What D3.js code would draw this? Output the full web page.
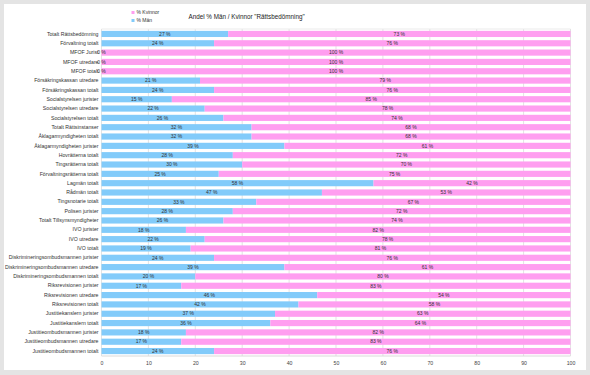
<!DOCTYPE html>
<html lang="sv">
<head>
    <meta charset="UTF-8">
    <title>Andel % Män / Kvinnor Rättsbedömning</title>
    <script src="https://d3js.org/d3.v7.min.js"></script>
    <style>
        body { margin: 0; background: #fff; }
        svg { display: block; font-family: "Liberation Sans", Arial, sans-serif; }
    </style>
</head>
<body>
<div id="chart"></div>
<script>

    // categories, top to bottom
    var categories = [
        "Totalt Rättsbedömning", "Förvaltning totalt", "MFOF Jurist", "MFOF utredare", "MFOF totalt",
        "Försäkringskassan utredare", "Försäkringskassan totalt", "Socialstyrelsen jurister",
        "Socialstyrelsen utredare", "Socialstyrelsen totalt", "Totalt Rättsinstanser",
        "Åklagarmyndigheten totalt", "Åklagarmyndigheten jurister", "Hovrätterna totalt",
        "Tingsrätterna totalt", "Förvaltningsrätterna totalt", "Lagmän totalt", "Rådmän totalt",
        "Tingsnotarie totalt", "Polisen jurister", "Totalt Tillsynsmyndigheter", "IVO jurister",
        "IVO utredare", "IVO totalt", "Diskrimineringsombudsmannen jurister",
        "Diskrimineringsombudsmannen utredare", "Diskrimineringsombudsmannen totalt",
        "Riksrevisionen jurister", "Riksrevisionen utredare", "Riksrevisionen totalt",
        "Justitiekanslern jurister", "Justitiekanslern totalt", "Justitieombudsmannen jurister",
        "Justitieombudsmannen utredare", "Justitieombudsmannen totalt"
    ];

    var man = [27, 24, 0, 0, 0, 21, 24, 15, 22, 26, 32, 32, 39, 28, 30, 25, 58, 47, 33, 28, 26,
        18, 22, 19, 24, 39, 20, 17, 46, 42, 37, 36, 18, 17, 24];

    var kvinnor = [73, 76, 100, 100, 100, 79, 76, 85, 78, 74, 68, 68, 61, 72, 70, 75, 42, 53, 67, 72, 74,
        82, 78, 81, 76, 61, 80, 83, 54, 58, 63, 64, 82, 83, 76];

    var xTicks = [0, 10, 20, 30, 40, 50, 60, 70, 80, 90, 100];

    var W = 590, H = 375;
    var margin = {top: 29, right: 19, bottom: 19, left: 101.5};
    var width = 570.5 - margin.left,
        height = 356 - margin.top;

    var svg = d3.select("#chart")
        .append("svg")
        .attr("width", W)
        .attr("height", H);

    // outer frame
    svg.append("rect").attr("width", W).attr("height", H).attr("fill", "#e4e4e4");
    svg.append("rect").attr("x", 4).attr("y", 4).attr("width", 582).attr("height", 366)
        .attr("fill", "#fff");

    var g = svg.append("g")
        .attr("transform", "translate(" + margin.left + "," + margin.top + ")");

    var x = d3.scaleLinear().domain([0, 100]).range([0, width]);
    var y = d3.scaleBand().domain(categories).range([0, height]).paddingInner(0.34).paddingOuter(0.2);

    // grid
    g.selectAll(".grid")
        .data(xTicks)
        .enter().append("line")
        .attr("x1", function (d) { return x(d); })
        .attr("x2", function (d) { return x(d); })
        .attr("y1", 0)
        .attr("y2", height)
        .attr("stroke", "#dcdcdc")
        .attr("stroke-width", 0.8);
    g.append("line").attr("x1", 0).attr("x2", width).attr("y1", 0).attr("y2", 0)
        .attr("stroke", "#e6e6e6").attr("stroke-width", 0.8);
    g.append("line").attr("x1", 0).attr("x2", width).attr("y1", height).attr("y2", height)
        .attr("stroke", "#d0d0d0").attr("stroke-width", 0.8);

    var rows = categories.map(function (c, i) {
        return {cat: c, man: man[i], kv: kvinnor[i]};
    });

    // men bars
    g.selectAll(".man")
        .data(rows)
        .enter().append("rect")
        .attr("x", x(0))
        .attr("y", function (d) { return y(d.cat); })
        .attr("width", function (d) { return x(d.man) - x(0); })
        .attr("height", y.bandwidth())
        .attr("fill", "#82cbfa");

    // women bars
    g.selectAll(".kv")
        .data(rows)
        .enter().append("rect")
        .attr("x", function (d) { return x(d.man); })
        .attr("y", function (d) { return y(d.cat); })
        .attr("width", function (d) { return x(d.man + d.kv) - x(d.man); })
        .attr("height", y.bandwidth())
        .attr("fill", "#ff9ef0");

    // value labels
    var lab = g.append("g").attr("font-size", 5).attr("fill", "#333").attr("text-anchor", "middle");
    lab.selectAll(".lm")
        .data(rows)
        .enter().append("text")
        .attr("x", function (d) { return x(d.man / 2); })
        .attr("y", function (d) { return y(d.cat) + y.bandwidth() / 2; })
        .attr("dy", "0.35em")
        .text(function (d) { return d.man + " %"; });
    lab.selectAll(".lk")
        .data(rows)
        .enter().append("text")
        .attr("x", function (d) { return x(d.man + d.kv / 2); })
        .attr("y", function (d) { return y(d.cat) + y.bandwidth() / 2; })
        .attr("dy", "0.35em")
        .text(function (d) { return d.kv + " %"; });

    // y axis labels
    var yAxis = g.append("g")
        .call(d3.axisLeft(y).tickSize(0).tickPadding(3));
    yAxis.select(".domain").remove();
    yAxis.selectAll("text").attr("font-size", 5.2).attr("fill", "#333")
        .attr("font-family", "'Liberation Sans', Arial, sans-serif");

    // x axis
    var xAxis = g.append("g")
        .attr("transform", "translate(0," + height + ")")
        .call(d3.axisBottom(x).tickValues(xTicks).tickSize(0).tickPadding(5));
    xAxis.select(".domain").remove();
    xAxis.selectAll("text").attr("font-size", 5.2).attr("fill", "#444")
        .attr("font-family", "'Liberation Sans', Arial, sans-serif");

    // legend
    var legend = svg.append("g").attr("font-size", 5).attr("fill", "#333");
    legend.append("rect").attr("x", 131.5).attr("y", 11).attr("width", 3).attr("height", 3).attr("fill", "#ff9ef0");
    legend.append("text").attr("x", 136.5).attr("y", 12.5).attr("dy", "0.35em").text("% Kvinnor");
    legend.append("rect").attr("x", 131.5).attr("y", 19).attr("width", 3).attr("height", 3).attr("fill", "#82cbfa");
    legend.append("text").attr("x", 136.5).attr("y", 20.5).attr("dy", "0.35em").text("% Män");

    // title
    svg.append("text")
        .attr("x", 188.5)
        .attr("y", 17)
        .attr("dy", "0.35em")
        .attr("font-size", 6.3)
        .attr("fill", "#222")
        .text("Andel % Män / Kvinnor \"Rättsbedömning\"");

</script>
</body>
</html>
